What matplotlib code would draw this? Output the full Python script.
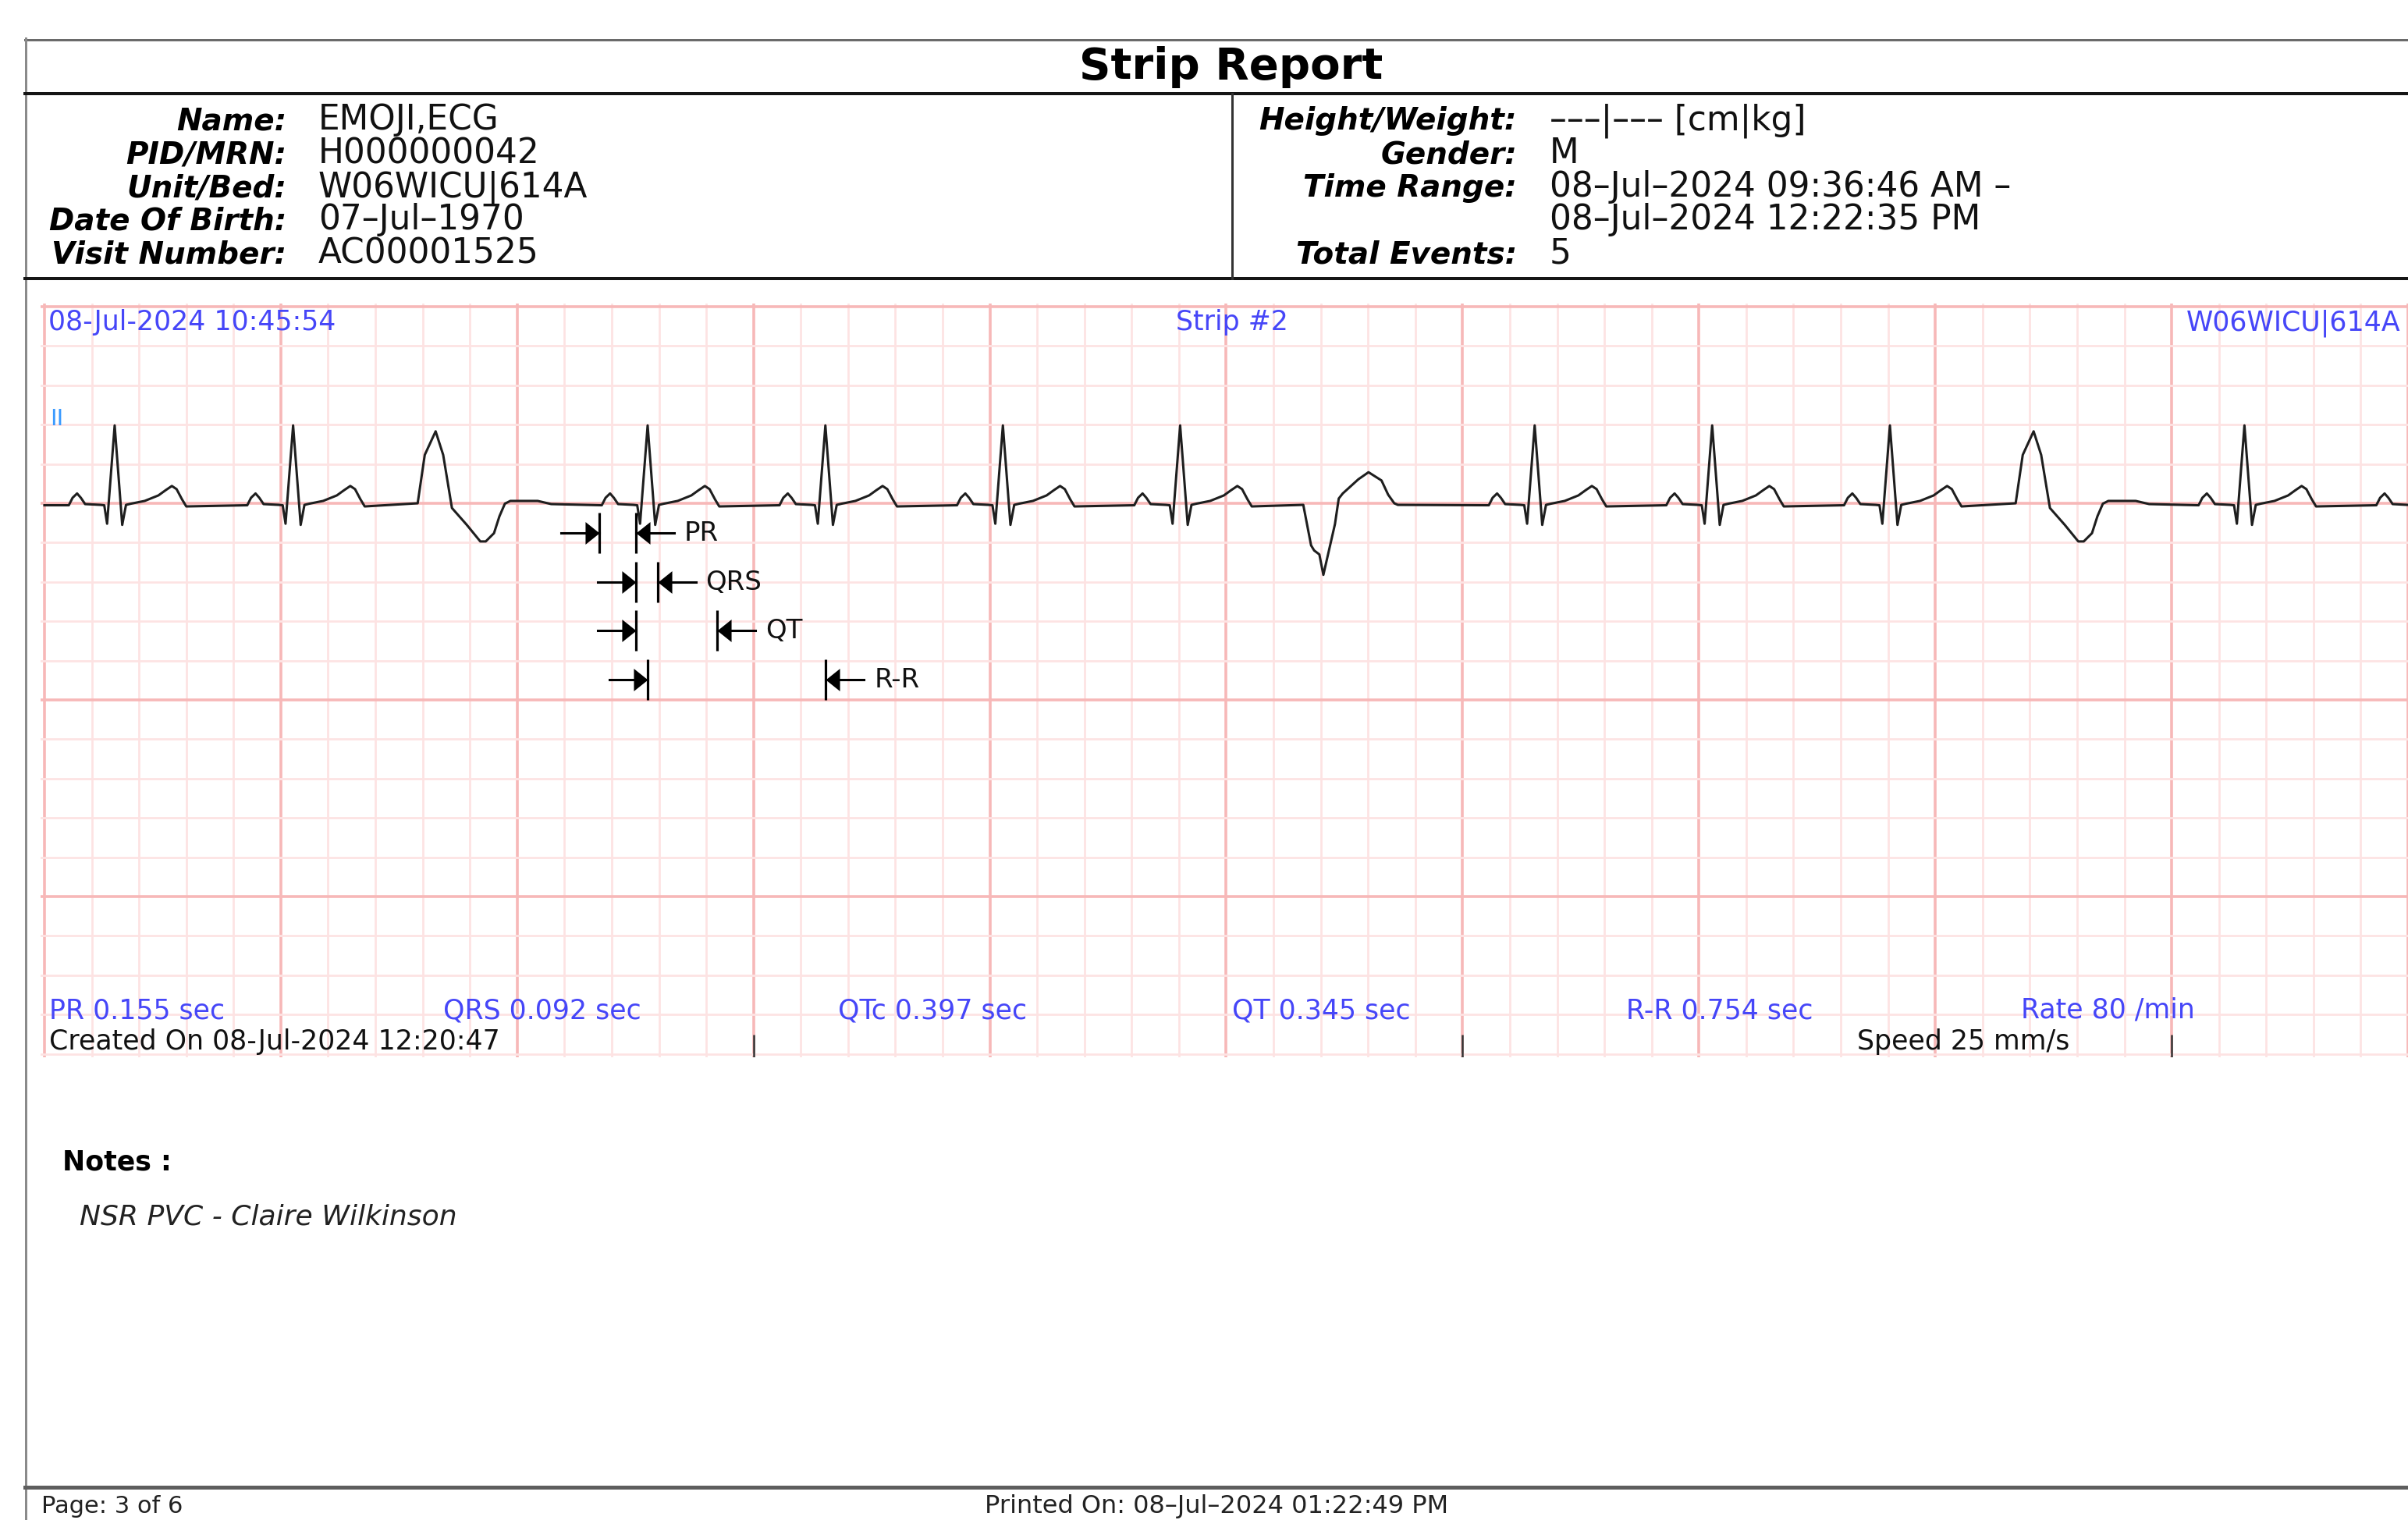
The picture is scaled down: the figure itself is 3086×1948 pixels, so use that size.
import matplotlib.pyplot as plt
import numpy as np

W, H = 3086, 1949
DPI = 100
PT = DPI / 72.0  # px per point

# ---- header data ----
left_labels = ['Name:', 'PID/MRN:', 'Unit/Bed:', 'Date Of Birth:', 'Visit Number:']
left_values = ['EMOJI,ECG', 'H000000042', 'W06WICU|614A', '07–Jul–1970', 'AC00001525']
right_labels = ['Height/Weight:', 'Gender:', 'Time Range:', '', 'Total Events:']
right_values = ['–––|––– [cm|kg]', 'M', '08–Jul–2024 09:36:46 AM –',
                '08–Jul–2024 12:22:35 PM', '5']

# ---- strip data ----
strip_start = '08-Jul-2024 10:45:54'
strip_name = 'Strip #2'
strip_bed = 'W06WICU|614A'
lead_name = 'II'
created_on = 'Created On 08-Jul-2024 12:20:47'
speed = 'Speed 25 mm/s'

meas_names = ['PR', 'QRS', 'QTc', 'QT', 'R-R', 'Rate']
meas_values = [0.155, 0.092, 0.397, 0.345, 0.754, 80]
meas_units = ['sec', 'sec', 'sec', 'sec', 'sec', '/min']

normal_r = [0.297, 1.052, 2.552, 3.304, 4.055, 4.805, 6.305, 7.056, 7.808, 9.308, 10.060]
pvc_up_on = [1.579, 8.340]
pvc_down_on = [5.326]

# beat shapes: offset (s), amplitude (mV)
normal_dt = [-0.194, -0.178, -0.159, -0.143, -0.125, -0.060, -0.044, -0.032, 0.000,
             0.032, 0.048, 0.069, 0.127, 0.185, 0.215, 0.242, 0.262, 0.285, 0.303]
normal_mv = [-0.005, 0.014, 0.025, 0.014, -0.002, -0.004, -0.005, -0.052, 0.198,
             -0.055, -0.004, -0.001, 0.006, 0.020, 0.033, 0.044, 0.036, 0.010, -0.008]
pvc_up_dt = [0.000, 0.030, 0.076, 0.108, 0.145, 0.208, 0.265, 0.288, 0.323, 0.346,
             0.369, 0.392, 0.508, 0.565]
pvc_up_mv = [0.000, 0.123, 0.183, 0.123, -0.012, -0.055, -0.097, -0.097, -0.076, -0.033,
             -0.001, 0.006, 0.006, -0.002]
pvc_down_dt = [0.000, 0.033, 0.046, 0.068, 0.085, 0.134, 0.150, 0.167, 0.233, 0.276,
               0.331, 0.359, 0.385, 0.400]
pvc_down_mv = [-0.004, -0.107, -0.120, -0.130, -0.182, -0.053, 0.012, 0.025, 0.061, 0.079,
               0.058, 0.022, 0.000, -0.004]

# calipers measured on the third normal beat
caliper_r = 2.552
caliper_qrs_on = 2.502
caliper_rows = [-0.075, -0.200, -0.323, -0.448]
time_marks = [3, 6, 9]

notes_title = 'Notes :'
notes_text = 'NSR PVC - Claire Wilkinson'
page_text = 'Page: 3 of 6'
printed_text = 'Printed On: 08–Jul–2024 01:22:49 PM'

# ---- strip geometry (px) ----
X0, PX_S = 57, 304.0      # t=0 position, px per second
Y0, PX_MV = 646, 504.0    # 0 mV position, px per mV
AX_L, AX_T, AX_B = 52, 390, 1356

BLUE = '#4646f8'
MAJOR = '#f7b8b8'
MINOR = '#fde3e3'

fig = plt.figure(figsize=(W / DPI, H / DPI), dpi=DPI, facecolor='white')

ax = fig.add_axes([AX_L / W, 1 - AX_B / H, (W - AX_L) / W, (AX_B - AX_T) / H])
ax.set_zorder(1)
ax.set_xlim((AX_L - X0) / PX_S, (W - X0) / PX_S)
ax.set_ylim((Y0 - AX_B) / PX_MV, (Y0 - AX_T) / PX_MV)
ax.set_xticks(np.arange(0, 10.01, 1.0))
ax.set_xticks(np.arange(0, 10.01, 0.2), minor=True)
ax.set_yticks([-1.0, -0.5, 0.0, 0.5])
ax.set_yticks(np.round(np.arange(-1.4, 0.51, 0.1), 2), minor=True)
ax.grid(which='minor', color=MINOR, lw=2.0)
ax.grid(which='major', color=MAJOR, lw=2.6)
ax.set_axisbelow(True)
ax.tick_params(which='both', length=0, labelbottom=False, labelleft=False)
for s in ax.spines.values():
    s.set_visible(False)

# build the trace
events = [(t, normal_dt, normal_mv) for t in normal_r]
events += [(t, pvc_up_dt, pvc_up_mv) for t in pvc_up_on]
events += [(t, pvc_down_dt, pvc_down_mv) for t in pvc_down_on]
events.sort(key=lambda e: e[0])
tx, ty = [0.0], [-0.005]
for t0, dts, mvs in events:
    tx += [t0 + d for d in dts]
    ty += list(mvs)
ax.plot(tx, ty, color='#1e1e1e', lw=2.2, solid_joinstyle='round')

# calipers
pr, qrs, qt, rr = meas_values[0], meas_values[1], meas_values[3], meas_values[4]
calipers = [('PR', caliper_qrs_on - pr, caliper_qrs_on),
            ('QRS', caliper_qrs_on, caliper_qrs_on + qrs),
            ('QT', caliper_qrs_on, caliper_qrs_on + qt),
            ('R-R', caliper_r, caliper_r + rr)]
half_bar = 26 / PX_MV
head_r = [(0, 0), (-1, 0.8), (-1, -0.8), (0, 0)]
head_l = [(0, 0), (1, 0.8), (1, -0.8), (0, 0)]
for (name, a, b), y in zip(calipers, caliper_rows):
    ax.vlines([a, b], y - half_bar, y + half_bar, color='black', lw=2.3)
    ax.plot([a - 49 / PX_S, a], [y, y], color='black', lw=2.2)
    ax.plot([b, b + 49 / PX_S], [y, y], color='black', lw=2.2)
    ax.plot([a], [y], marker=head_r, ms=26, color='black', mew=0)
    ax.plot([b], [y], marker=head_l, ms=26, color='black', mew=0)
    ax.text(b + 62 / PX_S, y, name, fontsize=24.5, va='center', ha='left', color='#111111')

# time marks at the bottom edge
ax.vlines(time_marks, (Y0 - AX_B) / PX_MV, (Y0 - 1327) / PX_MV, color='#333333', lw=1.8)

# ---- page overlay (pixel coords) ----
pg = fig.add_axes([0, 0, 1, 1])
pg.set_zorder(2)
pg.patch.set_alpha(0)
pg.set_xlim(0, W)
pg.set_ylim(H, 0)
pg.axis('off')

def px(v):
    return v / PT

pg.plot([32, W], [51.5, 51.5], color='#6a6a6a', lw=px(3))
pg.plot([32.5, 32.5], [50, H], color='#8a8a8a', lw=px(3))
pg.plot([32, W], [121, 121], color='#151515', lw=px(4))
pg.plot([32, W], [358, 358], color='#151515', lw=px(4))
pg.plot([1579, 1579], [121, 358], color='#333333', lw=px(3))
pg.plot([32, W], [1907, 1907], color='#5e5e5e', lw=px(5))

pg.text(1578, 101, 'Strip Report', fontsize=40.5, fontweight='bold', ha='center', va='baseline')

rows = [166, 209, 252, 294, 337]
for lab, val, y in zip(left_labels, left_values, rows):
    pg.text(367, y, lab, fontsize=28, fontweight='bold', style='italic', ha='right', va='baseline')
    pg.text(408, y, val, fontsize=31.5, ha='left', va='baseline', color='#111111')
for lab, val, y in zip(right_labels, right_values, rows):
    if lab:
        pg.text(1944, y, lab, fontsize=28, fontweight='bold', style='italic', ha='right', va='baseline')
    pg.text(1986, y, val, fontsize=31.5, ha='left', va='baseline', color='#111111')

# strip labels
pg.text(62, 423, strip_start, fontsize=25, color=BLUE, va='baseline')
pg.text(1579, 423, strip_name, fontsize=25, color=BLUE, ha='center', va='baseline')
pg.text(2802, 423, strip_bed, fontsize=25, color=BLUE, va='baseline')
pg.text(64, 545, lead_name, fontsize=21, color='#3a9aff', va='baseline')

for i, (n, v, u) in enumerate(zip(meas_names, meas_values, meas_units)):
    txt = f'{n} {v:.3f} {u}' if u == 'sec' else f'{n} {v} {u}'
    pg.text(63 + i * 505.3, 1305, txt, fontsize=25, color=BLUE, va='baseline')
pg.text(63, 1345, created_on, fontsize=25, color='#111111', va='baseline')
pg.text(2380, 1345, speed, fontsize=25, color='#111111', va='baseline')

pg.text(80, 1500, notes_title, fontsize=25, fontweight='bold', va='baseline')
pg.text(102, 1570, notes_text, fontsize=26, style='italic', va='baseline', color='#222222')

pg.text(53, 1939, page_text, fontsize=22, va='baseline', color='#222222')
pg.text(1262, 1939, printed_text, fontsize=23, va='baseline', color='#222222')

fig.savefig('out.png', dpi=DPI, facecolor='white')
